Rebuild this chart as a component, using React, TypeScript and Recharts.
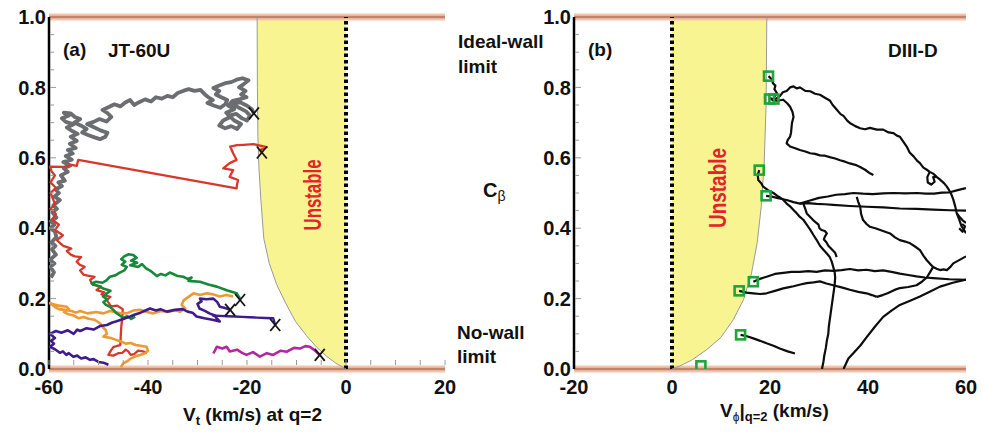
import React from "react";
import { Area, ComposedChart, ReferenceLine, Scatter, XAxis, YAxis } from "recharts";

type P = [number, number];

const FONT = "'Liberation Sans', Arial, Helvetica, sans-serif";

// --- panel (a) JT-60U ---
const leftBoundX = [-17.95, -17.9, -17.8, -17.6, -17.2, -16.6, -15.5, -14.0, -12.3, -10.2, -8.0, -6.0, -4.0, -2.0, 0];
const leftBoundC = [1.0, 0.8, 0.66, 0.574, 0.48, 0.37, 0.3, 0.24, 0.19, 0.135, 0.095, 0.063, 0.037, 0.016, 0];

const gray: P[] = [
  [-59.6, 0.26], [-59.0, 0.275], [-59.7, 0.29], [-58.9, 0.3], [-59.8, 0.31], [-58.6, 0.325], [-59.4, 0.34],
  [-58.7, 0.35], [-59.5, 0.36], [-58.5, 0.375], [-58.8, 0.39], [-59.7, 0.4], [-58.9, 0.41], [-59.6, 0.42],
  [-58.5, 0.43], [-59.3, 0.445], [-58.4, 0.455], [-59.1, 0.465], [-57.8, 0.48], [-58.9, 0.49], [-58.0, 0.5],
  [-58.7, 0.51], [-57.4, 0.52], [-58.1, 0.53], [-56.8, 0.535], [-57.6, 0.55], [-56.2, 0.56], [-57.0, 0.57],
  [-55.7, 0.578], [-57.1, 0.588], [-55.4, 0.595], [-56.6, 0.605], [-55.2, 0.612], [-56.2, 0.622], [-54.6, 0.628],
  [-55.8, 0.64], [-54.4, 0.648], [-55.6, 0.66], [-54.2, 0.668], [-55.3, 0.676], [-56.4, 0.686], [-55.0, 0.695],
  [-56.6, 0.702], [-57.4, 0.712], [-56.0, 0.72], [-57.0, 0.728], [-55.6, 0.726], [-54.8, 0.716], [-53.7, 0.71],
  [-54.9, 0.7], [-53.6, 0.692], [-52.4, 0.682], [-53.3, 0.672], [-52.0, 0.664], [-50.8, 0.658], [-49.7, 0.653],
  [-48.6, 0.66], [-48.2, 0.671], [-49.6, 0.678], [-50.8, 0.686], [-52.3, 0.696], [-51.0, 0.702], [-49.8, 0.71],
  [-48.4, 0.703], [-47.4, 0.716], [-48.3, 0.728], [-49.2, 0.736], [-47.8, 0.745], [-46.8, 0.752], [-45.6, 0.746],
  [-44.6, 0.757], [-43.6, 0.764], [-42.8, 0.75], [-41.8, 0.758], [-40.6, 0.766], [-39.4, 0.76], [-38.4, 0.772],
  [-37.2, 0.768], [-36.1, 0.776], [-35.0, 0.772], [-34.0, 0.784], [-32.9, 0.79], [-31.8, 0.795], [-30.6, 0.79],
  [-29.4, 0.793], [-28.5, 0.78], [-27.8, 0.772], [-26.9, 0.764], [-28.0, 0.756], [-26.6, 0.748], [-25.4, 0.742],
  [-24.4, 0.752], [-24.0, 0.764], [-25.2, 0.772], [-26.3, 0.78], [-25.6, 0.79], [-26.8, 0.798], [-25.5, 0.806],
  [-24.4, 0.812], [-23.2, 0.815], [-22.1, 0.822], [-20.9, 0.826], [-19.7, 0.82], [-20.6, 0.81], [-21.6, 0.8],
  [-20.3, 0.79], [-21.2, 0.78], [-20.1, 0.772], [-21.6, 0.766], [-22.9, 0.762], [-23.8, 0.748], [-22.6, 0.738],
  [-24.2, 0.728], [-23.4, 0.716], [-24.8, 0.706], [-25.6, 0.692], [-24.4, 0.684], [-23.2, 0.69], [-22.0, 0.682],
  [-21.2, 0.696], [-22.6, 0.706], [-23.6, 0.72], [-22.2, 0.725], [-21.0, 0.712], [-20.0, 0.706], [-19.4, 0.72],
  [-20.2, 0.732], [-21.6, 0.742], [-22.8, 0.752], [-21.4, 0.758], [-20.0, 0.748], [-19.0, 0.738], [-18.6, 0.726],
];

const red: P[] = [
  [-40.2, 0.045], [-41.0, 0.05], [-42.0, 0.052], [-42.8, 0.042], [-43.5, 0.04], [-44.0, 0.05], [-44.5, 0.055],
  [-45.2, 0.046], [-46.0, 0.045], [-47.0, 0.038], [-48.0, 0.04], [-47.6, 0.05], [-47.0, 0.062], [-46.2, 0.066],
  [-45.6, 0.068], [-45.5, 0.095], [-45.4, 0.12], [-45.2, 0.145], [-45.1, 0.17], [-46.2, 0.18], [-47.5, 0.178],
  [-48.3, 0.196], [-47.6, 0.205], [-49.4, 0.212], [-48.8, 0.218], [-50.4, 0.224], [-49.5, 0.235], [-51.2, 0.24],
  [-51.7, 0.253], [-50.8, 0.262], [-52.2, 0.265], [-53.0, 0.268], [-53.7, 0.28], [-52.8, 0.29], [-53.8, 0.296],
  [-54.4, 0.305], [-53.5, 0.318], [-54.8, 0.32], [-55.6, 0.325], [-56.4, 0.335], [-55.5, 0.342], [-57.1, 0.35],
  [-57.8, 0.358], [-58.4, 0.366], [-57.2, 0.38], [-58.8, 0.395], [-58.0, 0.41], [-59.4, 0.425], [-58.6, 0.44],
  [-59.7, 0.455], [-58.8, 0.468], [-59.1, 0.48], [-59.7, 0.5], [-58.6, 0.515], [-59.7, 0.53], [-58.8, 0.55],
  [-59.5, 0.562], [-59.8, 0.575], [-57.0, 0.574], [-55.4, 0.58], [-54.4, 0.577], [-54.1, 0.594], [-22.1, 0.513],
  [-22.0, 0.525], [-21.8, 0.537], [-23.5, 0.546], [-22.8, 0.565], [-24.8, 0.57], [-23.5, 0.585], [-22.1, 0.594],
  [-22.8, 0.613], [-23.4, 0.632], [-22.0, 0.636], [-20.7, 0.637], [-18.7, 0.639], [-16.0, 0.63], [-17.4, 0.622],
  [-17.0, 0.615],
];

const green: P[] = [
  [-42.6, 0.149], [-43.4, 0.142], [-44.2, 0.15], [-45.0, 0.145], [-45.7, 0.152], [-46.5, 0.16], [-47.0, 0.168],
  [-47.7, 0.177], [-48.5, 0.182], [-49.0, 0.19], [-48.2, 0.198], [-49.1, 0.206], [-48.4, 0.214], [-47.6, 0.222],
  [-48.9, 0.228], [-50.2, 0.236], [-51.4, 0.243], [-50.5, 0.248], [-49.2, 0.245], [-48.4, 0.252], [-47.7, 0.262],
  [-46.6, 0.266], [-45.7, 0.274], [-44.8, 0.28], [-44.3, 0.29], [-45.3, 0.296], [-44.6, 0.305], [-45.4, 0.312],
  [-44.8, 0.32], [-43.9, 0.326], [-43.0, 0.324], [-42.3, 0.316], [-43.4, 0.308], [-42.2, 0.302], [-43.6, 0.295],
  [-42.0, 0.29], [-41.2, 0.298], [-40.4, 0.286], [-39.4, 0.278], [-38.2, 0.264], [-37.4, 0.27], [-36.5, 0.266],
  [-35.6, 0.274], [-34.9, 0.27], [-34.0, 0.264], [-32.9, 0.262], [-32.0, 0.256], [-31.2, 0.26], [-31.8, 0.25],
  [-30.6, 0.249], [-29.5, 0.248], [-27.8, 0.24], [-26.1, 0.234], [-24.1, 0.224], [-22.1, 0.215], [-21.4, 0.2],
];

const orange: P[] = [
  [-45.5, 0.005], [-45.0, 0.016], [-44.2, 0.022], [-43.5, 0.03], [-42.5, 0.036], [-41.6, 0.04], [-40.6, 0.045],
  [-40.0, 0.052], [-40.3, 0.063], [-41.5, 0.066], [-42.5, 0.068], [-43.5, 0.074], [-44.5, 0.072], [-45.4, 0.078],
  [-46.3, 0.082], [-47.5, 0.088], [-49.0, 0.092], [-48.3, 0.1], [-48.5, 0.11], [-49.2, 0.12], [-49.7, 0.13],
  [-50.8, 0.14], [-52.0, 0.143], [-53.0, 0.148], [-54.0, 0.144], [-55.0, 0.152], [-56.2, 0.156], [-57.0, 0.162],
  [-56.0, 0.17], [-56.4, 0.177], [-58.0, 0.18], [-59.8, 0.187], [-58.8, 0.176], [-58.0, 0.17], [-56.8, 0.168],
  [-55.5, 0.165], [-54.5, 0.16], [-53.7, 0.165], [-52.2, 0.158], [-50.5, 0.162], [-49.0, 0.158], [-47.7, 0.165],
  [-46.0, 0.16], [-44.3, 0.158], [-43.0, 0.166], [-41.6, 0.168], [-40.2, 0.162], [-38.9, 0.158], [-37.4, 0.165],
  [-36.0, 0.162], [-34.6, 0.167], [-33.5, 0.163], [-32.5, 0.172], [-33.2, 0.182], [-32.8, 0.195], [-31.8, 0.205],
  [-30.8, 0.215], [-29.5, 0.21], [-28.1, 0.215], [-26.8, 0.212], [-25.5, 0.206], [-24.2, 0.21], [-22.8, 0.206],
];

const purpleA: P[] = [
  [-48.0, 0.012], [-49.0, 0.018], [-50.0, 0.02], [-51.0, 0.028], [-51.7, 0.026], [-52.6, 0.033], [-53.5, 0.03],
  [-54.3, 0.038], [-55.1, 0.035], [-56.0, 0.045], [-56.5, 0.04], [-57.2, 0.05], [-57.8, 0.046], [-58.8, 0.056],
  [-59.8, 0.063], [-59.0, 0.072], [-59.6, 0.08], [-58.8, 0.088], [-59.8, 0.1], [-58.6, 0.108], [-57.5, 0.103],
  [-56.2, 0.11], [-55.0, 0.1], [-54.3, 0.112], [-53.7, 0.108], [-52.4, 0.116], [-51.0, 0.112], [-49.7, 0.122],
  [-48.3, 0.125], [-47.2, 0.132], [-46.5, 0.135], [-45.0, 0.142], [-43.6, 0.149], [-42.6, 0.155], [-41.5, 0.16],
  [-40.4, 0.167], [-39.6, 0.172], [-38.4, 0.166], [-37.5, 0.17], [-36.2, 0.163], [-34.6, 0.168], [-33.0, 0.17],
  [-32.0, 0.163], [-31.0, 0.16], [-30.2, 0.149], [-28.6, 0.144], [-27.0, 0.14], [-25.5, 0.135], [-26.2, 0.145],
  [-26.5, 0.152], [-27.6, 0.158], [-28.5, 0.165], [-29.6, 0.172], [-30.0, 0.185], [-29.2, 0.192], [-29.5, 0.2],
  [-28.2, 0.198], [-26.8, 0.2], [-26.0, 0.19], [-25.5, 0.177], [-24.6, 0.174], [-23.4, 0.168],
];

const purpleB: P[] = [[-27.0, 0.152], [-25.5, 0.151], [-24.0, 0.15], [-22.5, 0.149], [-21.0, 0.148], [-19.5, 0.147], [-18.0, 0.146], [-16.3, 0.145], [-14.7, 0.144], [-14.3, 0.125]];

const magenta: P[] = [
  [-26.8, 0.044], [-26.1, 0.063], [-25.0, 0.058], [-24.1, 0.063], [-23.5, 0.05], [-22.0, 0.055], [-21.0, 0.046],
  [-20.1, 0.04], [-18.8, 0.048], [-17.4, 0.035], [-16.0, 0.045], [-14.7, 0.04], [-13.2, 0.052], [-12.0, 0.049],
  [-10.5, 0.06], [-9.3, 0.058], [-8.2, 0.065], [-7.3, 0.063], [-6.5, 0.055], [-5.3, 0.04],
];

const leftEnds: P[] = [[-18.6, 0.726], [-17.0, 0.615], [-21.4, 0.196], [-23.4, 0.168], [-14.3, 0.125], [-5.3, 0.04]];

// --- panel (b) DIII-D ---
const rightBoundX = [0, 1.5, 4, 7, 10, 12.5, 14.6, 16.2, 17.4, 18.2, 18.8, 19.2, 19.35];
const rightBoundC = [0, 0.008, 0.025, 0.054, 0.09, 0.14, 0.197, 0.27, 0.36, 0.46, 0.58, 0.75, 1.0];

const rightEnds: P[] = [
  [19.7, 0.832], [19.9, 0.767], [20.8, 0.767], [17.8, 0.565], [19.2, 0.492], [16.6, 0.248], [13.7, 0.222],
  [14.0, 0.097], [5.9, 0.009],
];

const diiidTracks: P[][] = [
  [[19.7, 0.832], [20.3, 0.824], [20.6, 0.812], [21.1, 0.805], [20.9, 0.795], [21.4, 0.784], [20.8, 0.772]],
  [
    [20.0, 0.769], [21.0, 0.766], [22.0, 0.775], [22.6, 0.786], [23.4, 0.79], [24.1, 0.8], [24.8, 0.803], [25.5, 0.797],
    [26.1, 0.8], [27.2, 0.79], [28.2, 0.789], [29.2, 0.782], [30.2, 0.779], [31.3, 0.77], [32.2, 0.763], [32.8, 0.75],
    [33.6, 0.737], [34.4, 0.724], [35.0, 0.719], [35.8, 0.705], [36.3, 0.699], [37.4, 0.69], [38.4, 0.684], [39.4, 0.681],
    [40.4, 0.685], [41.8, 0.68], [43.1, 0.68], [44.2, 0.672], [45.2, 0.67], [45.9, 0.663], [46.5, 0.66], [47.2, 0.646],
    [47.9, 0.632], [48.5, 0.615], [49.3, 0.604], [50.0, 0.592], [50.6, 0.585], [51.3, 0.572], [52.0, 0.566], [52.6, 0.56],
    [53.3, 0.555], [54.0, 0.546], [54.7, 0.538], [55.5, 0.528], [56.1, 0.518], [56.9, 0.5], [57.4, 0.482], [57.8, 0.462],
    [58.1, 0.443], [58.6, 0.425], [59.1, 0.405], [59.6, 0.395], [60, 0.386],
  ],
  [
    [20.3, 0.764], [21.5, 0.762], [22.7, 0.765], [23.5, 0.755], [24.1, 0.745], [24.6, 0.73], [24.8, 0.716], [24.5, 0.7],
    [24.4, 0.688], [24.3, 0.672], [24.1, 0.66], [23.6, 0.65], [23.4, 0.641], [24.1, 0.632], [25.0, 0.628], [26.1, 0.622],
    [27.2, 0.618], [28.2, 0.613], [29.2, 0.611], [30.2, 0.607], [31.2, 0.606], [32.2, 0.602], [33.3, 0.598], [34.3, 0.593],
    [35.3, 0.589], [36.3, 0.584], [37.4, 0.58], [38.4, 0.574], [39.4, 0.566], [40.4, 0.556], [41.1, 0.551],
  ],
  [
    [17.8, 0.565], [17.5, 0.55], [17.6, 0.537], [18.2, 0.528], [18.6, 0.518], [19.6, 0.508], [20.7, 0.5], [21.7, 0.49],
    [22.7, 0.481], [23.4, 0.47], [24.1, 0.462], [24.8, 0.452], [25.4, 0.443], [26.1, 0.432], [26.8, 0.424], [27.5, 0.41],
    [28.2, 0.396], [28.9, 0.38], [29.5, 0.367], [30.2, 0.35], [30.9, 0.339], [31.6, 0.328], [32.2, 0.318], [32.6, 0.305],
    [32.9, 0.29], [33.2, 0.275], [33.3, 0.26], [33.2, 0.24], [33.0, 0.22], [32.8, 0.2], [32.6, 0.18], [32.4, 0.16],
    [32.2, 0.14], [32.0, 0.12], [31.9, 0.1], [31.6, 0.08], [31.4, 0.06], [31.1, 0.04], [30.9, 0.02], [30.6, 0],
  ],
  [
    [19.2, 0.492], [20.3, 0.49], [21.4, 0.486], [22.4, 0.483], [23.4, 0.48], [24.8, 0.474], [26.1, 0.47], [27.8, 0.471],
    [29.5, 0.469], [31.2, 0.468], [32.9, 0.466], [36.3, 0.463], [39.7, 0.461], [43.1, 0.459], [46.5, 0.456], [49.9, 0.455],
    [53.3, 0.453], [56.7, 0.451], [60, 0.45],
  ],
  [
    [26.1, 0.47], [28.0, 0.478], [30.0, 0.486], [31.8, 0.49], [33.5, 0.495], [35.3, 0.497], [37.0, 0.5], [39.0, 0.498],
    [41.0, 0.497], [43.1, 0.499], [45.2, 0.5], [47.6, 0.499], [50.0, 0.5], [51.8, 0.498], [53.5, 0.498], [55.1, 0.501],
    [56.7, 0.502], [58.3, 0.508], [60, 0.514],
  ],
  [
    [26.8, 0.47], [27.2, 0.455], [27.5, 0.442], [28.2, 0.432], [28.8, 0.423], [29.4, 0.416], [29.9, 0.41], [30.1, 0.4],
    [30.5, 0.395], [31.2, 0.392], [31.6, 0.385], [31.2, 0.376], [31.0, 0.368], [31.5, 0.36], [31.9, 0.35], [32.6, 0.34],
    [33.3, 0.33], [33.6, 0.318],
  ],
  [
    [35.0, 0], [35.5, 0.015], [36.0, 0.03], [37.0, 0.045], [38.4, 0.066], [39.7, 0.09], [41.4, 0.12], [43.1, 0.148],
    [44.8, 0.166], [46.5, 0.182], [48.6, 0.194], [50.6, 0.206], [52.7, 0.22], [54.7, 0.234], [57.3, 0.245], [60, 0.254],
  ],
  [
    [16.6, 0.248], [17.9, 0.256], [19.3, 0.262], [21.0, 0.27], [22.7, 0.273], [24.4, 0.276], [26.1, 0.276], [27.8, 0.278],
    [29.5, 0.276], [31.2, 0.28], [32.9, 0.279], [34.6, 0.281], [36.3, 0.284], [38.0, 0.28], [39.7, 0.282], [41.4, 0.278],
    [43.1, 0.28], [44.8, 0.276], [46.5, 0.271], [48.2, 0.267], [49.9, 0.263], [51.6, 0.26], [53.3, 0.258], [56.6, 0.255],
    [60, 0.253],
  ],
  [
    [13.7, 0.222], [15.2, 0.217], [16.6, 0.215], [18.0, 0.213], [19.3, 0.215], [21.0, 0.222], [22.7, 0.229], [23.7, 0.232],
    [24.8, 0.235], [26.2, 0.24], [27.5, 0.244], [28.9, 0.246], [30.2, 0.249], [31.5, 0.243], [32.9, 0.238], [34.6, 0.232],
    [36.3, 0.225], [38.0, 0.219], [39.7, 0.215], [40.8, 0.21], [41.8, 0.205],
  ],
  [[14.0, 0.097], [15.3, 0.093], [16.6, 0.087], [18.0, 0.08], [19.3, 0.073], [20.7, 0.066], [22.0, 0.058], [23.6, 0.05], [25.1, 0.044]],
  [
    [37.7, 0.489], [38.0, 0.475], [38.4, 0.461], [38.6, 0.44], [39.0, 0.423], [39.7, 0.412], [40.4, 0.404], [41.5, 0.4],
    [42.5, 0.395], [43.5, 0.39], [44.5, 0.385], [45.5, 0.374], [46.5, 0.366], [47.6, 0.362], [48.6, 0.357], [49.6, 0.348],
    [50.6, 0.338], [51.3, 0.322], [52.0, 0.309], [52.7, 0.298], [53.3, 0.29], [54.0, 0.285], [54.7, 0.281], [55.4, 0.283],
    [56.1, 0.281], [56.8, 0.29], [57.4, 0.3], [58.7, 0.31], [60, 0.32],
  ],
  [[41.8, 0.205], [43.0, 0.21], [44.0, 0.215], [45.3, 0.224], [46.5, 0.23], [48.2, 0.233], [49.9, 0.238], [51.0, 0.248], [52.0, 0.26], [52.7, 0.276], [53.3, 0.29]],
  [[52.6, 0.56], [52.1, 0.545], [52.2, 0.53], [52.9, 0.524], [53.6, 0.532], [53.3, 0.545], [54.0, 0.546]],
  [[58.1, 0.443], [58.8, 0.43], [59.5, 0.42], [60, 0.415]],
  [[58.6, 0.4], [59.3, 0.39], [59.8, 0.405], [59.2, 0.412]],
];

const yTicks = [0, 0.05, 0.1, 0.15, 0.2, 0.25, 0.3, 0.35, 0.4, 0.45, 0.5, 0.55, 0.6, 0.65, 0.7, 0.75, 0.8, 0.85, 0.9, 0.95, 1];
const leftXTicks = [-60, -55, -50, -45, -40, -35, -30, -25, -20, -15, -10, -5, 0, 5, 10, 15, 20];
const rightXTicks = [-20, 0, 20, 40, 60];

const pts = (a: P[]) => a.map(([x, y]) => ({ x, y }));
const band = (xs: number[], cs: number[]) => xs.map((x, i) => ({ x, band: [cs[i], 1] }));
const edge = (xs: number[], cs: number[]) => xs.map((x, i) => ({ x, y: cs[i] }));

const NoDot = () => <g />;

const XMark = (p: any) => (
  <g stroke="#151515" strokeWidth={1.8}>
    <line x1={p.cx - 5} y1={p.cy - 6} x2={p.cx + 5} y2={p.cy + 6} />
    <line x1={p.cx + 5} y1={p.cy - 6} x2={p.cx - 5} y2={p.cy + 6} />
  </g>
);

const SquareMark = (p: any) => (
  <rect x={p.cx - 4.5} y={p.cy - 4.5} width={9} height={9} fill="none" stroke="#1fa33a" strokeWidth={2.6} />
);

const labelStyle = { fontFamily: FONT, fontSize: 20, fontWeight: "bold" as const, fill: "#111" };

const bottomTick = (minor: boolean) => (p: any) => {
  const v = p.payload.value;
  const major = Math.abs(v % 20) < 1e-6;
  return (
    <g>
      {minor && <line x1={p.x} x2={p.x} y1={p.y - 4} y2={p.y - 9} stroke="#9a9a9a" strokeWidth={1} />}
      {major && (
        <text x={p.x} y={p.y + 11} dy="0.71em" textAnchor="middle" style={labelStyle}>
          {v}
        </text>
      )}
    </g>
  );
};

const topTick = (p: any) => <line x1={p.x} x2={p.x} y1={p.y + 4} y2={p.y + 9} stroke="#9a9a9a" strokeWidth={1} />;

const leftYTick = (p: any) => {
  const v = p.payload.value;
  const major = Math.round(v * 100) % 20 === 0;
  return (
    <g>
      {v > 0 && v < 1 && <line x1={p.x + 1} x2={p.x + (major ? 7 : 5)} y1={p.y} y2={p.y} stroke="#9a9a9a" strokeWidth={1} />}
      {major && (
        <text x={p.x - 3} y={p.y} dy="0.355em" textAnchor="end" style={labelStyle}>
          {v.toFixed(1)}
        </text>
      )}
    </g>
  );
};

const rightYTick = (p: any) => {
  const v = p.payload.value;
  const major = Math.round(v * 100) % 20 === 0;
  if (v <= 0 || v >= 1) return <g />;
  return <line x1={p.x - 1} x2={p.x - (major ? 8 : 5)} y1={p.y} y2={p.y} stroke="#9a9a9a" strokeWidth={1} />;
};

function Panel({
  width,
  margin,
  domain,
  xTicks,
  bandData,
  edgeData,
  minorX,
  children,
}: {
  width: number;
  margin: { top: number; right: number; bottom: number; left: number };
  domain: [number, number];
  xTicks: number[];
  bandData: { x: number; band: number[] }[];
  edgeData: { x: number; y: number }[];
  minorX: boolean;
  children: React.ReactNode;
}) {
  return (
    <ComposedChart width={width} height={432} data={bandData} margin={margin}>
      <XAxis
        xAxisId="b"
        dataKey="x"
        type="number"
        domain={domain}
        ticks={xTicks}
        interval={0}
        allowDataOverflow
        axisLine={false}
        tickLine={false}
        tickSize={0}
        tickMargin={0}
        height={63}
        tick={bottomTick(minorX)}
      />
      <XAxis
        xAxisId="t"
        orientation="top"
        type="number"
        domain={domain}
        ticks={minorX ? xTicks : []}
        interval={0}
        allowDataOverflow
        axisLine={false}
        tickLine={false}
        tickSize={0}
        tickMargin={0}
        height={0}
        tick={topTick}
      />
      <YAxis
        yAxisId="l"
        dataKey="y"
        type="number"
        domain={[0, 1]}
        ticks={yTicks}
        interval={0}
        allowDataOverflow
        axisLine={{ stroke: "#000", strokeWidth: 2.5 }}
        tickLine={false}
        tickSize={0}
        tickMargin={0}
        width={40}
        tick={leftYTick}
      />
      <YAxis
        yAxisId="r"
        orientation="right"
        type="number"
        domain={[0, 1]}
        ticks={yTicks}
        interval={0}
        allowDataOverflow
        axisLine={{ stroke: "#000", strokeWidth: 2.5 }}
        tickLine={false}
        tickSize={0}
        tickMargin={0}
        width={0}
        tick={rightYTick}
      />
      <Area
        xAxisId="b"
        yAxisId="l"
        dataKey="band"
        type="linear"
        fill="#f8f492"
        fillOpacity={1}
        stroke="none"
        isAnimationActive={false}
      />
      <Scatter
        xAxisId="b"
        yAxisId="l"
        data={edgeData}
        fill="#9a9a9a"
        line={{ stroke: "#9a9a9a", strokeWidth: 1 }}
        shape={NoDot}
        isAnimationActive={false}
      />
      <ReferenceLine xAxisId="b" yAxisId="l" y={1} stroke="#f3c6ac" strokeWidth={7} />
      <ReferenceLine xAxisId="b" yAxisId="l" y={1} stroke="#c1836a" strokeWidth={2.5} />
      <ReferenceLine xAxisId="b" yAxisId="l" y={0} stroke="#f3c6ac" strokeWidth={7} />
      <ReferenceLine xAxisId="b" yAxisId="l" y={0} stroke="#c1836a" strokeWidth={2.5} />
      <ReferenceLine xAxisId="b" yAxisId="l" x={0} stroke="#000" strokeWidth={4} strokeDasharray="3.5 3" />
      {children}
    </ComposedChart>
  );
}

const track = (key: string, data: P[], color: string, w: number) => (
  <Scatter
    key={key}
    xAxisId="b"
    yAxisId="l"
    data={pts(data)}
    fill={color}
    line={{ stroke: color, strokeWidth: w, strokeLinejoin: "round" }}
    shape={NoDot}
    isAnimationActive={false}
  />
);

export default function App() {
  return (
    <div style={{ position: "absolute", left: 0, top: 0, width: 985, height: 432, background: "#fff" }}>
      <div style={{ position: "absolute", left: 0, top: 0 }}>
        <Panel
          width={500}
          margin={{ top: 17, right: 55, bottom: 0, left: 9 }}
          domain={[-60, 20]}
          xTicks={leftXTicks}
          bandData={band(leftBoundX, leftBoundC)}
          edgeData={edge(leftBoundX, leftBoundC)}
          minorX
        >
          {track("gray", gray, "#6b6d70", 3.8)}
          {track("red", red, "#d8372b", 2.3)}
          {track("orange", orange, "#ec9a35", 2.6)}
          {track("green", green, "#18883a", 2.6)}
          {track("purpleA", purpleA, "#3f1c8c", 2.6)}
          {track("purpleB", purpleB, "#3f1c8c", 2.4)}
          {track("magenta", magenta, "#b02a9e", 2.6)}
          <Scatter xAxisId="b" yAxisId="l" data={pts(leftEnds)} shape={XMark} isAnimationActive={false} />
        </Panel>
      </div>
      <div style={{ position: "absolute", left: 500, top: 0 }}>
        <Panel
          width={485}
          margin={{ top: 17, right: 19, bottom: 0, left: 34 }}
          domain={[-20, 60]}
          xTicks={rightXTicks}
          bandData={band(rightBoundX, rightBoundC)}
          edgeData={edge(rightBoundX, rightBoundC)}
          minorX={false}
        >
          {diiidTracks.map((t, i) => track(`d${i}`, t, "#0d0d0d", 2.2))}
          <Scatter xAxisId="b" yAxisId="l" data={pts(rightEnds)} shape={SquareMark} isAnimationActive={false} />
        </Panel>
      </div>
      <svg
        width={985}
        height={432}
        style={{ position: "absolute", left: 0, top: 0, pointerEvents: "none" }}
        fontFamily={FONT}
        fill="#111"
      >
        <text x={63} y={56} fontSize={19} fontWeight="bold">(a)</text>
        <text x={108} y={57} fontSize={19} fontWeight="bold">JT-60U</text>
        <text transform="translate(321,195) rotate(-90)" textAnchor="middle" fill="#e3232b" fontWeight="bold" fontSize={24} textLength={71} lengthAdjust="spacingAndGlyphs">
          Unstable
        </text>
        <text x={588} y={56} fontSize={19} fontWeight="bold">(b)</text>
        <text x={888} y={57} fontSize={19} fontWeight="bold">DIII-D</text>
        <text transform="translate(726,188) rotate(-90)" textAnchor="middle" fill="#e3232b" fontWeight="bold" fontSize={24} textLength={80} lengthAdjust="spacingAndGlyphs">
          Unstable
        </text>
        <text x={458} y={48} fontSize={19} fontWeight="bold">Ideal-wall</text>
        <text x={458} y={73} fontSize={19} fontWeight="bold">limit</text>
        <text x={483} y={197} fontSize={20} fontWeight="bold">
          C<tspan dy={4} fontSize={14} fontWeight="normal">β</tspan>
        </text>
        <text x={457} y={339} fontSize={19} fontWeight="bold">No-wall</text>
        <text x={457} y={363} fontSize={19} fontWeight="bold">limit</text>
        <text x={183} y={421} fontSize={19} fontWeight="bold">
          V<tspan dy={4} fontSize={13}>t</tspan>
          <tspan dy={-4}> (km/s) at q=2</tspan>
        </text>
        <text x={720} y={417} fontSize={19} fontWeight="bold">
          V<tspan dy={4} fontSize={12} fontWeight="normal">ϕ</tspan>
          <tspan dy={-4}>|</tspan>
          <tspan dy={4} fontSize={13}>q=2</tspan>
          <tspan dy={-4}> (km/s)</tspan>
        </text>
      </svg>
    </div>
  );
}
